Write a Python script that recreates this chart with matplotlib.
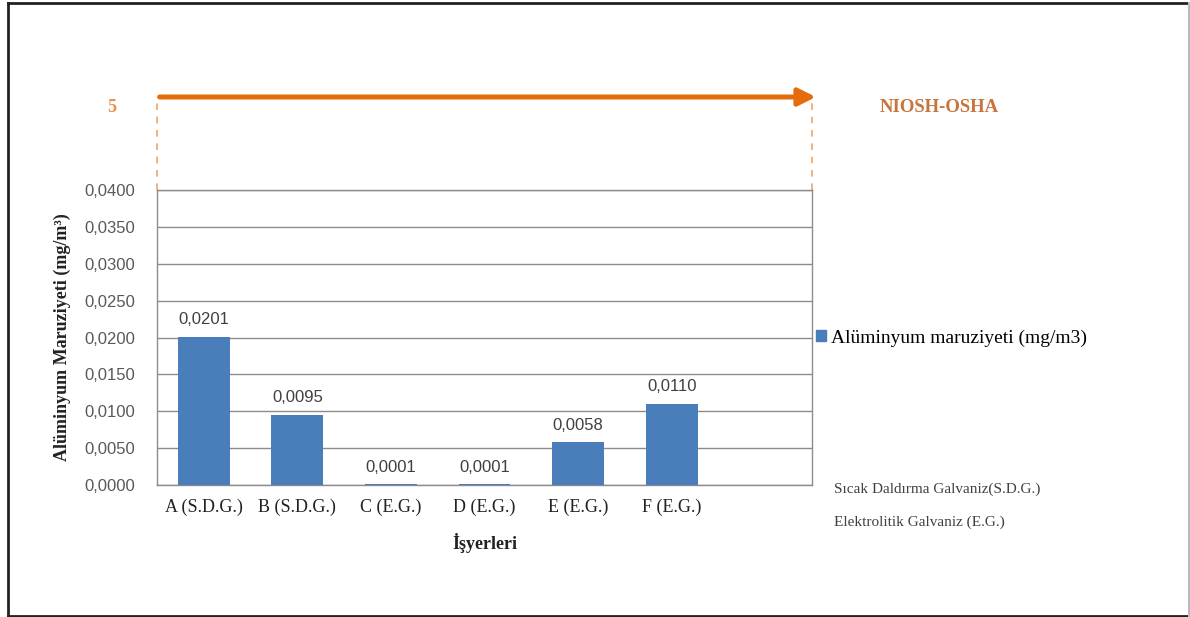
import matplotlib
matplotlib.use("Agg")
import matplotlib.pyplot as plt
from matplotlib.lines import Line2D
from matplotlib.patches import Patch

# Workplaces and measured aluminium exposure (mg/m3)
categories = ["A (S.D.G.)", "B (S.D.G.)", "C (E.G.)", "D (E.G.)", "E (E.G.)", "F (E.G.)"]
values = [0.0201, 0.0095, 0.0001, 0.0001, 0.0058, 0.0110]
value_labels = ["0,0201", "0,0095", "0,0001", "0,0001", "0,0058", "0,0110"]
y_ticks = [0.0, 0.005, 0.010, 0.015, 0.020, 0.025, 0.030, 0.035, 0.040]
limit_label = "5"
limit_name = "NIOSH-OSHA"
series_name = "Alüminyum maruziyeti (mg/m3)"
notes = ["Sıcak Daldırma Galvaniz(S.D.G.)", "Elektrolitik Galvaniz (E.G.)"]

SERIF = ["Liberation Serif", "DejaVu Serif"]
SANS = ["Liberation Sans", "DejaVu Sans"]
BAR = "#4a7ebb"
ORANGE = "#e46c0a"
LIGHT_ORANGE = "#f2a66a"
GRID = "#8c8c8c"

W, H = 1190, 617
fig = plt.figure(figsize=(W / 100, H / 100), dpi=100)
fig.patch.set_facecolor("white")

def fx(px):
    return px / W

def fy(py):
    return 1 - py / H

ax = fig.add_axes([fx(157), fy(485), fx(812) - fx(157), fy(190) - fy(485)])

x = list(range(len(categories)))
ax.bar(x, values, width=0.555, color=BAR, zorder=3)
for xi, v, lab in zip(x, values, value_labels):
    ax.annotate(lab, (xi, v), xytext=(0, 7), textcoords="offset points",
                ha="center", va="bottom", fontsize=12, family=SANS, color="#404040")

ax.set_xlim(-0.5, 6.5)
ax.set_ylim(0, 0.04)
ax.set_yticks(y_ticks)
ax.set_yticklabels([f"{t:.4f}".replace(".", ",") for t in y_ticks],
                   family=SANS, fontsize=12, color="#595959")
ax.set_xticks(x)
ax.set_xticklabels(categories, family=SERIF, fontsize=13, color="#222222")
ax.tick_params(axis="both", length=0)
ax.tick_params(axis="y", pad=16)
ax.tick_params(axis="x", pad=10)
ax.grid(axis="y", color=GRID, linewidth=1.0, zorder=0)
for s in ax.spines.values():
    s.set_color(GRID)
    s.set_linewidth(1.0)

ax.set_ylabel("Alüminyum Maruziyeti (mg/m³)", family=SERIF,
              fontweight="bold", fontsize=13, color="#222222", labelpad=9)
ax.set_xlabel("İşyerleri", family=SERIF, fontweight="bold", fontsize=13,
              color="#222222", labelpad=12)

# Exposure limit marker above the plot area
y_arrow = (485 - 97) / 295
ax.annotate("", xy=(1.006, y_arrow), xytext=(0.004, y_arrow),
            xycoords="axes fraction", textcoords="axes fraction",
            arrowprops=dict(arrowstyle="-|>", lw=3.6, color=ORANGE,
                            mutation_scale=26, shrinkA=0, shrinkB=0))
for xv in (0.0, 1.0):
    ax.add_line(Line2D([xv, xv], [1.0, y_arrow], transform=ax.transAxes,
                       color=LIGHT_ORANGE, lw=1.2, linestyle=(0, (4, 4)),
                       clip_on=False))
fig.text(fx(112), fy(108), limit_label, ha="center", va="center",
         fontsize=13, fontweight="bold", family=SERIF, color="#e8924a")
fig.text(fx(939), fy(108), limit_name, ha="center", va="center",
         fontsize=13.5, fontweight="bold", family=SERIF, color="#c8743a")

ax.legend(handles=[Patch(color=BAR, label=series_name)], loc="center left",
          bbox_to_anchor=(1.0, (485 - 338) / 295), frameon=False,
          handlelength=0.5, handleheight=0.5, handletextpad=0.3,
          borderaxespad=0.2, borderpad=0,
          prop={"family": SERIF, "size": 14})

fig.text(fx(834), fy(489), notes[0], ha="left", va="center", fontsize=11,
         family=SERIF, color="#404040")
fig.text(fx(834), fy(522), notes[1], ha="left", va="center", fontsize=11,
         family=SERIF, color="#404040")

# Outer frame
dark = "#222222"
fig.add_artist(Line2D([fx(8), fx(8)], [fy(3), fy(616)], color=dark, lw=2))
fig.add_artist(Line2D([fx(8), fx(1189)], [fy(3), fy(3)], color=dark, lw=2))
fig.add_artist(Line2D([fx(8), fx(1189)], [fy(616), fy(616)], color=dark, lw=2))
fig.add_artist(Line2D([fx(1188.5), fx(1188.5)], [fy(3), fy(616)], color="#bbbbbb", lw=1.5))

fig.savefig("out.png", dpi=100, facecolor="white")
